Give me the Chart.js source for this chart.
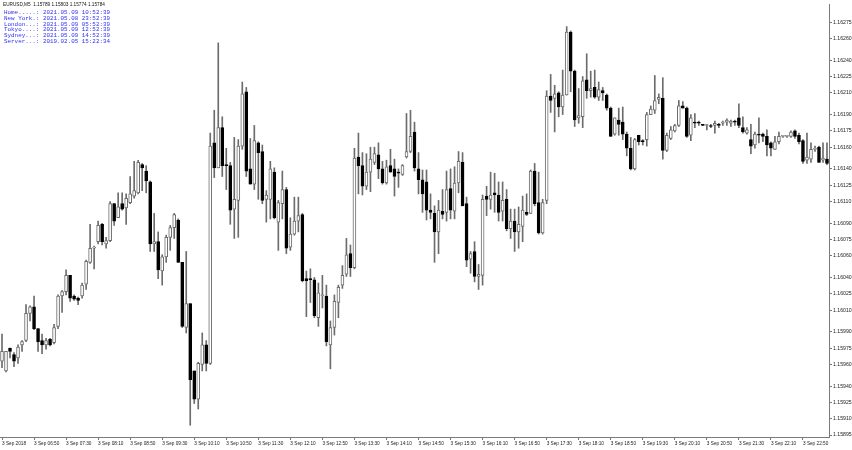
<!DOCTYPE html>
<html>
<head>
<meta charset="utf-8">
<script src="https://cdn.jsdelivr.net/npm/chart.js@4"></script>
<style>
  html, body { margin: 0; padding: 0; background: #fff; }
  #wrap { width: 852px; height: 450px; }
</style>
</head>
<body>
<div id="wrap"><canvas id="c" width="852" height="450"></canvas></div>
<script>
// EURUSD M5, 3 Sep 2018 — one entry per bar
const openP = [
  1.15963,1.15954,1.15975,1.15969,1.15966,1.15978,1.15982,1.16007,1.16013,1.15993,
  1.15982,1.15978,1.15983,1.15980,1.15995,1.16023,1.16027,1.16042,1.16023,1.16021,
  1.16023,1.16034,1.16054,1.16067,1.16073,1.16089,1.16071,1.16074,1.16108,1.16095,
  1.16108,1.16104,1.16109,1.16115,1.16118,1.16144,1.16138,1.16128,1.16071,1.16073,
  1.16046,1.16059,1.16077,1.16086,1.16093,1.16054,1.15994,1.16016,1.15954,1.15928,
  1.15960,1.15978,1.15961,1.16164,1.16141,1.16178,1.16144,1.16143,1.16103,1.16111,
  1.16161,1.16211,1.16140,1.16126,1.16164,1.16156,1.16112,1.16112,1.16137,1.16091,
  1.16108,1.16121,1.16068,1.16080,1.16092,1.16098,1.16039,1.16039,1.16038,1.16003,
  1.16023,1.16023,1.15978,1.15994,1.16017,1.16033,1.16043,1.16062,1.16049,1.16151,
  1.16143,1.16124,1.16137,1.16146,1.16153,1.16140,1.16127,1.16143,1.16140,1.16137,
  1.16135,1.16151,1.16156,1.16174,1.16140,1.16130,1.16128,1.16102,1.16099,1.16082,
  1.16101,1.16100,1.16122,1.16101,1.16127,1.16146,1.16108,1.16057,1.16064,1.16041,
  1.16042,1.16115,1.16112,1.16118,1.16116,1.16101,1.16112,1.16085,1.16092,1.16082,
  1.16087,1.16100,1.16099,1.16138,1.16109,1.16081,1.16111,1.16207,1.16205,1.16210,
  1.16197,1.16208,1.16266,1.16230,1.16187,1.16188,1.16222,1.16212,1.16215,1.16206,
  1.16212,1.16208,1.16196,1.16172,1.16185,1.16183,1.16172,1.16159,1.16140,1.16171,
  1.16166,1.16167,1.16190,1.16194,1.16204,1.16205,1.16157,1.16168,1.16175,1.16180,
  1.16198,1.16196,1.16171,1.16183,1.16183,1.16181,1.16180,1.16180,1.16180,1.16181,
  1.16182,1.16183,1.16182,1.16184,1.16187,1.16178,1.16173,1.16167,1.16162,1.16172,
  1.16172,1.16170,1.16164,1.16158,1.16165,1.16170,1.16170,1.16170,1.16175,1.16171,
  1.16166,1.16148,1.16149,1.16158,1.16160,1.16148,1.16149
]
const highP = [
  1.15988,1.15972,1.15975,1.15971,1.15978,1.15982,1.16015,1.16014,1.16023,1.15993,
  1.15988,1.15984,1.15984,1.15997,1.16024,1.16028,1.16047,1.16042,1.16024,1.16022,
  1.16035,1.16056,1.16089,1.16069,1.16092,1.16090,1.16077,1.16110,1.16108,1.16118,
  1.16118,1.16117,1.16133,1.16147,1.16148,1.16145,1.16143,1.16129,1.16099,1.16082,
  1.16061,1.16079,1.16088,1.16099,1.16094,1.16054,1.16064,1.16016,1.15954,1.15962,
  1.15989,1.15982,1.16173,1.16194,1.16256,1.16188,1.16159,1.16146,1.16169,1.16167,
  1.16220,1.16215,1.16168,1.16180,1.16165,1.16162,1.16120,1.16147,1.16141,1.16111,
  1.16138,1.16123,1.16095,1.16114,1.16114,1.16099,1.16046,1.16048,1.16040,1.16035,
  1.16042,1.16033,1.16000,1.16024,1.16033,1.16051,1.16076,1.16070,1.16159,1.16173,
  1.16155,1.16154,1.16160,1.16160,1.16164,1.16147,1.16148,1.16158,1.16149,1.16140,
  1.16144,1.16191,1.16194,1.16183,1.16155,1.16139,1.16139,1.16117,1.16106,1.16111,
  1.16121,1.16138,1.16140,1.16142,1.16156,1.16155,1.16114,1.16064,1.16073,1.16052,
  1.16116,1.16124,1.16137,1.16136,1.16128,1.16128,1.16121,1.16103,1.16103,1.16105,
  1.16115,1.16117,1.16139,1.16145,1.16137,1.16112,1.16212,1.16227,1.16217,1.16211,
  1.16231,1.16271,1.16267,1.16231,1.16214,1.16225,1.16246,1.16230,1.16231,1.16220,
  1.16215,1.16209,1.16197,1.16187,1.16196,1.16197,1.16174,1.16169,1.16168,1.16171,
  1.16167,1.16192,1.16198,1.16226,1.16209,1.16224,1.16173,1.16179,1.16181,1.16203,
  1.16202,1.16197,1.16190,1.16191,1.16184,1.16181,1.16181,1.16181,1.16184,1.16182,
  1.16184,1.16186,1.16185,1.16185,1.16200,1.16188,1.16178,1.16181,1.16174,1.16187,
  1.16173,1.16176,1.16165,1.16170,1.16174,1.16171,1.16171,1.16175,1.16176,1.16173,
  1.16167,1.16173,1.16164,1.16161,1.16161,1.16164,1.16164
]
const lowP = [
  1.15957,1.15953,1.15966,1.15958,1.15961,1.15972,1.15981,1.16000,1.15992,1.15972,
  1.15970,1.15974,1.15977,1.15979,1.15993,1.16008,1.16024,1.16018,1.16019,1.16015,
  1.16021,1.16029,1.16053,1.16048,1.16071,1.16070,1.16067,1.16073,1.16088,1.16095,
  1.16102,1.16089,1.16108,1.16113,1.16117,1.16120,1.16118,1.16064,1.16064,1.16039,
  1.16033,1.16054,1.16065,1.16076,1.16054,1.15994,1.15989,1.15904,1.15924,1.15919,
  1.15954,1.15954,1.15960,1.16132,1.16141,1.16133,1.16121,1.16089,1.16076,1.16077,
  1.16158,1.16133,1.16126,1.16121,1.16112,1.16108,1.16091,1.16094,1.16094,1.16065,
  1.16094,1.16062,1.16065,1.16079,1.16082,1.16036,1.16004,1.16017,1.16003,1.15995,
  1.16012,1.15977,1.15956,1.15987,1.16003,1.16030,1.16041,1.16041,1.16048,1.16117,
  1.16116,1.16121,1.16119,1.16144,1.16131,1.16126,1.16126,1.16137,1.16115,1.16123,
  1.16134,1.16150,1.16155,1.16138,1.16117,1.16100,1.16093,1.16094,1.16054,1.16062,
  1.16094,1.16092,1.16094,1.16094,1.16118,1.16106,1.16050,1.16044,1.16036,1.16029,
  1.16033,1.16097,1.16103,1.16100,1.16092,1.16092,1.16083,1.16076,1.16064,1.16067,
  1.16073,1.16097,1.16099,1.16106,1.16080,1.16080,1.16108,1.16192,1.16174,1.16188,
  1.16190,1.16208,1.16211,1.16179,1.16182,1.16178,1.16205,1.16206,1.16205,1.16203,
  1.16203,1.16194,1.16170,1.16171,1.16171,1.16167,1.16152,1.16139,1.16139,1.16162,
  1.16162,1.16161,1.16190,1.16191,1.16200,1.16149,1.16156,1.16167,1.16174,1.16179,
  1.16196,1.16169,1.16166,1.16178,1.16180,1.16180,1.16176,1.16178,1.16173,1.16178,
  1.16180,1.16180,1.16179,1.16180,1.16178,1.16173,1.16172,1.16154,1.16159,1.16164,
  1.16165,1.16152,1.16152,1.16158,1.16163,1.16169,1.16169,1.16169,1.16168,1.16163,
  1.16145,1.16145,1.16146,1.16156,1.16146,1.16146,1.16144
]
const closeP = [
  1.15972,1.15972,1.15972,1.15963,1.15976,1.15981,1.16007,1.16013,1.15993,1.15981,
  1.15978,1.15982,1.15978,1.15994,1.16023,1.16027,1.16042,1.16021,1.16020,1.16019,
  1.16033,1.16055,1.16067,1.16068,1.16088,1.16073,1.16074,1.16108,1.16092,1.16105,
  1.16103,1.16113,1.16117,1.16120,1.16146,1.16141,1.16129,1.16071,1.16073,1.16047,
  1.16059,1.16077,1.16086,1.16098,1.16054,1.15995,1.16016,1.15946,1.15928,1.15961,
  1.15978,1.15961,1.16161,1.16141,1.16178,1.16143,1.16143,1.16102,1.16112,1.16161,
  1.16209,1.16138,1.16126,1.16166,1.16155,1.16111,1.16116,1.16140,1.16095,1.16109,
  1.16121,1.16067,1.16080,1.16092,1.16097,1.16037,1.16037,1.16038,1.16005,1.16026,
  1.16024,1.15981,1.15994,1.16018,1.16031,1.16042,1.16061,1.16049,1.16150,1.16143,
  1.16124,1.16137,1.16149,1.16154,1.16140,1.16127,1.16142,1.16137,1.16133,1.16136,
  1.16143,1.16156,1.16170,1.16141,1.16130,1.16117,1.16102,1.16100,1.16082,1.16102,
  1.16098,1.16121,1.16102,1.16127,1.16147,1.16106,1.16056,1.16062,1.16041,1.16043,
  1.16112,1.16112,1.16116,1.16116,1.16100,1.16111,1.16085,1.16092,1.16082,1.16089,
  1.16102,1.16098,1.16138,1.16108,1.16081,1.16109,1.16207,1.16203,1.16209,1.16197,
  1.16208,1.16266,1.16230,1.16185,1.16189,1.16221,1.16212,1.16214,1.16206,1.16213,
  1.16210,1.16196,1.16170,1.16187,1.16181,1.16172,1.16159,1.16140,1.16167,1.16165,
  1.16165,1.16190,1.16195,1.16203,1.16206,1.16157,1.16171,1.16176,1.16180,1.16198,
  1.16196,1.16170,1.16187,1.16182,1.16182,1.16180,1.16180,1.16179,1.16182,1.16180,
  1.16183,1.16185,1.16184,1.16183,1.16180,1.16174,1.16176,1.16161,1.16172,1.16171,
  1.16170,1.16162,1.16159,1.16165,1.16170,1.16170,1.16170,1.16174,1.16170,1.16165,
  1.16147,1.16151,1.16158,1.16159,1.16146,1.16150,1.16145
]

const xTickLabels = [
  "3 Sep 2018","3 Sep 06:50","3 Sep 07:30","3 Sep 08:10","3 Sep 08:50","3 Sep 09:30",
  "3 Sep 10:10","3 Sep 10:50","3 Sep 11:30","3 Sep 12:10","3 Sep 12:50","3 Sep 13:30",
  "3 Sep 14:10","3 Sep 14:50","3 Sep 15:30","3 Sep 16:10","3 Sep 16:50","3 Sep 17:30",
  "3 Sep 18:10","3 Sep 18:50","3 Sep 19:30","3 Sep 20:10","3 Sep 20:50","3 Sep 21:30",
  "3 Sep 22:10","3 Sep 22:50"
]
const barsPerLabel = 8

const yTicks = [
  1.16275,1.16260,1.16240,1.16225,1.16210,1.16190,1.16175,1.16160,1.16140,1.16125,
  1.16110,1.16090,1.16075,1.16060,1.16040,1.16025,1.16010,1.15990,1.15975,1.15960,
  1.15940,1.15925,1.15910,1.15895
]

const headerText = "EURUSD,M5  1.15789 1.15803 1.15774 1.15784"
const clockLines = [
  "Home.....: 2021.05.09 10:52:39",
  "New York.: 2021.05.08 23:52:39",
  "London...: 2021.05.09 05:52:39",
  "Tokyo....: 2021.05.09 12:52:39",
  "Sydney...: 2021.05.09 14:52:39",
  "Server...: 2019.02.05 15:22:34"
]

const wickCol = "#6c6c6c"
const axisCol = "#7a7a7a"
const bull = openP.map((o, i) => closeP[i] >= o)

// header + clock comment drawn over the plot
const overlay = {
  id: "overlay",
  afterDraw(chart) {
    const c = chart.ctx
    c.save()
    c.textBaseline = "middle"
    c.font = '4.7px "Liberation Sans"'
    c.fillStyle = "#111"
    c.fillText(headerText, 3, 4.5)
    c.font = '5.9px "Liberation Mono"'
    c.fillStyle = "#2f2ff5"
    clockLines.forEach((t, i) => c.fillText(t, 4, 12.5 + i * 5.8))
    c.restore()
  }
}

new Chart(document.getElementById("c"), {
  type: "bar",
  data: {
    labels: openP.map((_, i) => i),
    datasets: [
      {
        label: "body",
        data: openP.map((o, i) => [o, closeP[i]]),
        backgroundColor: bull.map(b => b ? "#ffffff" : "#000000"),
        borderColor: bull.map(b => b ? wickCol : "#000000"),
        borderWidth: 1,
        borderSkipped: false,
        barThickness: 3,
        minBarLength: 1,
        grouped: false,
        order: 0
      },
      {
        label: "wick",
        data: lowP.map((l, i) => [l, highP[i]]),
        backgroundColor: wickCol,
        barThickness: 1,
        grouped: false,
        order: 1
      }
    ]
  },
  options: {
    responsive: false,
    animation: false,
    events: [],
    layout: { padding: 0 },
    plugins: { legend: { display: false }, tooltip: { enabled: false } },
    scales: {
      x: {
        type: "category",
        offset: true,
        afterBuildTicks: s => { s.ticks = s.ticks.filter(t => t.value % barsPerLabel === 0) },
        afterFit: s => { s.height = 13 },
        grid: { drawOnChartArea: false, offset: false, tickLength: 3, tickColor: axisCol },
        border: { color: axisCol },
        ticks: {
          autoSkip: false, maxRotation: 0, minRotation: 0, align: "start", padding: 1,
          color: "#222", font: { family: "Liberation Sans", size: 4.7 },
          callback: v => xTickLabels[v / barsPerLabel]
        }
      },
      y: {
        type: "linear",
        position: "right",
        min: 1.158932,
        max: 1.162917,
        afterBuildTicks: s => { s.ticks = yTicks.map(v => ({ value: v })) },
        afterFit: s => { s.width = 23 },
        grid: { drawOnChartArea: false, tickLength: 3, tickColor: axisCol },
        border: { color: axisCol },
        ticks: {
          padding: 1, color: "#222", font: { family: "Liberation Sans", size: 5.2 },
          callback: v => v.toFixed(5)
        }
      }
    }
  },
  plugins: [overlay]
})
</script>
</body>
</html>
